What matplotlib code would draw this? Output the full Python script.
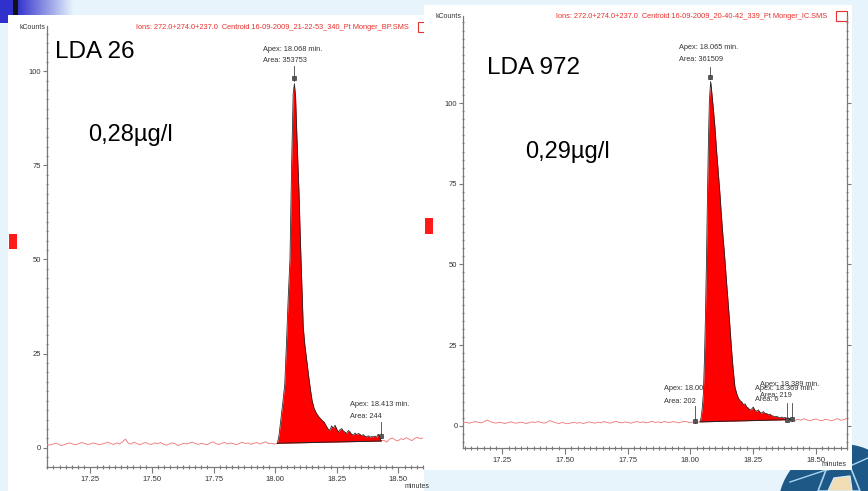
import numpy as np
import matplotlib.pyplot as plt
from matplotlib.patches import Rectangle, Circle, Polygon
from matplotlib.ticker import MultipleLocator, FixedLocator

plt.rcParams['font.family'] = ['Liberation Sans', 'DejaVu Sans']

W, H = 868, 491

# ---------------- data ----------------
# LDA 26 (left run)
left_xlim = (17.072, 18.600)
left_ylim = (-5.1, 112.0)
left_pre = [1.0, 0.7, 0.9, 1.2, 1.0, 0.6, 0.8, 1.1, 1.3, 1.0, 0.8, 1.1, 1.4, 1.2, 0.9, 1.0,
            1.3, 1.1, 0.8, 1.0, 1.2, 1.5, 1.1, 0.9, 1.3, 1.0, 1.6, 2.3, 1.2, 1.0, 1.5, 1.1,
            0.8, 1.2, 1.4, 1.0, 0.9, 1.3, 1.1, 1.4, 1.0, 0.7, 1.0, 1.3, 1.1, 0.6, 0.9, 1.2,
            1.0, 1.3, 1.5, 1.1, 0.9, 1.2, 1.0, 0.8, 1.3, 1.6, 1.1, 0.9, 1.2, 1.4, 1.0, 1.3,
            1.1, 0.8, 1.2, 1.5, 1.1, 1.3, 0.9, 1.2, 1.4, 1.0, 1.3, 1.6, 1.1, 1.2, 1.0, 1.2]
left_peak_t = [18.009, 18.016, 18.023, 18.031, 18.039, 18.046, 18.053, 18.060, 18.067, 18.073,
               18.078, 18.083, 18.087, 18.092, 18.097, 18.101, 18.105, 18.110, 18.114, 18.121,
               18.128, 18.135, 18.142, 18.150, 18.158, 18.168, 18.178, 18.189, 18.199, 18.209,
               18.216, 18.222, 18.229, 18.236, 18.243, 18.250, 18.256, 18.263, 18.270, 18.276,
               18.283, 18.290, 18.297, 18.304, 18.310, 18.317, 18.324, 18.331, 18.338, 18.344,
               18.351, 18.358, 18.364, 18.371, 18.378, 18.385, 18.391, 18.398, 18.405, 18.412,
               18.418, 18.425, 18.430]
left_peak_v = [1.2, 3.5, 7.5, 12, 17, 28, 40, 50, 76, 94,
               96.7, 93, 85, 76, 67.5, 58, 49.8, 40, 32, 27,
               23.3, 19.5, 16, 12.5, 10.5, 9.1, 8.2, 7.4, 6.8, 5.6,
               4.9, 4.7, 5.8, 5.2, 6.0, 5.0, 4.2, 4.8, 5.1, 4.5,
               4.2, 3.8, 4.6, 4.2, 3.6, 3.4, 3.9, 3.5, 3.8, 3.6,
               3.2, 3.5, 3.1, 2.9, 3.2, 2.8, 3.0, 2.9, 3.1, 2.8,
               3.6, 2.8, 1.8]
left_post = [1.8, 2.0, 1.5, 2.3, 2.6, 2.1, 1.8, 2.4, 2.2, 2.7, 2.3, 1.9, 2.5, 2.8, 2.4, 2.6]
left_marks = [(18.077, 97.5, 101.5), (18.428, 2.6, 6.9)]
left_labels = [(17.950, 105.8, "Apex: 18.068 min."), (17.950, 102.9, "Area: 353753"),
               (18.304, 11.6, "Apex: 18.413 min."), (18.304, 8.4, "Area: 244")]

# LDA 972 (right run)
right_xlim = (17.093, 18.625)
right_ylim = (-6.9, 127.0)
right_pre = [0.9, 1.1, 0.8, 1.0, 1.3, 1.1, 0.9, 1.2, 1.8, 1.3, 1.0, 0.8, 1.1, 0.9, 0.7, 1.0,
             1.2, 0.9, 0.8, 1.1, 1.0, 0.7, 0.9, 1.2, 1.0, 1.3, 1.0, 0.8, 1.1, 1.6, 1.2, 0.9,
             0.7, 1.0, 0.8, 0.6, 0.9, 1.1, 0.8, 1.0, 0.7, 0.9, 1.2, 1.0, 0.8, 1.1, 0.9, 1.3,
             1.0, 0.8, 1.1, 1.4, 1.0, 0.9, 1.2, 1.0, 0.8, 1.1, 1.3, 1.0, 1.2, 0.9, 1.1, 1.4,
             1.0, 1.2, 0.9, 1.3, 1.1, 1.0, 1.3, 1.1, 0.9, 1.2, 1.4, 1.1, 1.0, 1.3, 1.1, 1.2]
right_peak_t = [18.039, 18.044, 18.048, 18.052, 18.056, 18.060, 18.064, 18.068, 18.072, 18.076,
                18.081, 18.086, 18.092, 18.098, 18.104, 18.111, 18.118, 18.124, 18.131, 18.138,
                18.144, 18.151, 18.158, 18.165, 18.171, 18.178, 18.185, 18.192, 18.198, 18.205,
                18.212, 18.218, 18.225, 18.231, 18.238, 18.245, 18.251, 18.258, 18.265, 18.271,
                18.278, 18.285, 18.291, 18.298, 18.305, 18.311, 18.318, 18.325, 18.331, 18.338,
                18.345, 18.352, 18.358, 18.365, 18.372, 18.378, 18.385, 18.392, 18.398, 18.404]
right_peak_v = [1.2, 3, 6, 10, 20, 33, 50, 70, 88, 101,
                106.7, 103, 98, 92.7, 86, 79, 72, 65, 58, 51.4,
                45, 38, 30.7, 23, 17.3, 12, 10, 8.5, 7.8, 7.4,
                6.5, 6.8, 5.8, 5.5, 4.9, 5.2, 5.8, 4.7, 4.5, 4.9,
                4.2, 3.9, 4.4, 3.8, 3.8, 3.4, 3.6, 3.1, 3.0, 2.8,
                2.9, 2.6, 2.5, 2.7, 2.4, 2.6, 2.3, 2.4, 2.2, 1.9]
right_post = [1.9, 1.6, 2.0, 1.7, 2.2, 1.8, 1.5, 1.9, 2.1, 1.7, 1.6, 2.0, 1.8, 1.5, 1.9, 2.2,
              1.7, 1.9, 2.3]
right_marks = [(18.080, 107.5, 111.3), (18.018, 0.9, 6.2), (18.385, 1.2, 7.2), (18.405, 1.6, 7.2)]
# the two last peaks' labels overlap each other in the original display
right_labels = [(17.955, 117.1, "Apex: 18.065 min."), (17.955, 113.4, "Area: 361509"),
                (17.895, 11.4, "Apex: 18.008 min."), (17.895, 7.4, "Area: 202"),
                (18.258, 11.5, "Apex: 18.369 min."), (18.258, 8.1, "Area: 6"),
                (18.276, 12.7, "Apex: 18.389 min."), (18.276, 9.3, "Area: 219")]

x_major = [17.25, 17.50, 17.75, 18.00, 18.25, 18.50]
x_labels = ["17.25", "17.50", "17.75", "18.00", "18.25", "18.50"]
y_major = [0, 25, 50, 75, 100]

BG = '#e8f4fc'
AX_GREY = '#7a7a7a'
TXT = '#333333'
HEAD_RED = '#e8302c'
SMALL = 5.3


def px_axes(fig, x0, y0, x1, y1):
    return fig.add_axes([x0 / W, 1 - y1 / H, (x1 - x0) / W, (y1 - y0) / H])


def draw_chrom(ax, xlim, ylim, pre, pk_t, pk_v, post, marks, labels, right_spine):
    ax.set_xlim(*xlim)
    ax.set_ylim(*ylim)
    ax.patch.set_alpha(0)

    # baseline noise before and after the peak
    t_pre = np.linspace(xlim[0], pk_t[0], len(pre))
    t_post = np.linspace(pk_t[-1], xlim[1], len(post))
    ax.plot(t_pre, pre, color='#f27272', lw=0.6, zorder=3)
    ax.plot(t_post, post, color='#f27272', lw=0.6, zorder=3)

    # integrated peak
    pk_t = np.array(pk_t)
    pk_v = np.array(pk_v)
    base = np.interp(pk_t, [pk_t[0], pk_t[-1]], [pk_v[0], pk_v[-1]])
    ax.fill_between(pk_t, base, pk_v, color='#ff0000', lw=0, zorder=4)
    ax.plot(pk_t, pk_v, color='#222222', lw=0.55, zorder=5)
    ax.plot([pk_t[0], pk_t[-1]], [pk_v[0], pk_v[-1]], color='#222222', lw=0.7, zorder=5)

    # apex markers
    for t, lo, hi in marks:
        ax.plot([t, t], [lo, hi], color='#444444', lw=0.6, zorder=6)
        ax.plot([t], [lo + 0.6], marker='s', ms=2.3, color='#555555',
                mec='#222222', mew=0.4, zorder=6)
    for t, v, s in labels:
        ax.text(t, v, s, fontsize=SMALL, color=TXT, va='center', ha='left', zorder=2)

    ax.spines['top'].set_visible(False)
    ax.spines['right'].set_visible(right_spine)
    for side in ['left', 'bottom', 'right']:
        ax.spines[side].set_color(AX_GREY)
        ax.spines[side].set_linewidth(0.9)

    ax.xaxis.set_major_locator(FixedLocator(x_major))
    ax.set_xticklabels(x_labels)
    ax.xaxis.set_minor_locator(MultipleLocator(0.025))
    ax.yaxis.set_major_locator(FixedLocator(y_major))
    ax.yaxis.set_minor_locator(MultipleLocator(2.5))
    ax.tick_params(axis='both', which='both', colors=AX_GREY, labelcolor=TXT,
                   labelsize=5.5, width=0.8)
    ax.tick_params(axis='x', which='major', direction='out', length=4, pad=2.5)
    ax.tick_params(axis='x', which='minor', direction='inout', length=2.5)
    ax.tick_params(axis='y', which='major', direction='out', length=3, pad=1)
    ax.tick_params(axis='y', which='minor', direction='inout', length=2)
    ax.tick_params(axis='y', which='both', right=right_spine, labelright=False)


fig = plt.figure(figsize=(W / 100, H / 100), dpi=100)
fig.patch.set_facecolor(BG)

bg = fig.add_axes([0, 0, 1, 1])
bg.set_xlim(0, W)
bg.set_ylim(H, 0)
bg.axis('off')

# slide decoration top-left
grad = np.linspace(0, 1, 60)[None, :, None]
c0 = np.array([0.19, 0.19, 0.80])
c1 = np.array([0.91, 0.957, 0.988])
bg.imshow(c0 + (c1 - c0) * grad, extent=[16, 74, 15, 0], aspect='auto', zorder=1)
bg.add_patch(Rectangle((0, 0), 16, 15, color='#3030cc', lw=0, zorder=1))
bg.add_patch(Rectangle((0, 15), 8, 8, color='#3030cc', lw=0, zorder=1))
bg.add_patch(Rectangle((13, 0), 5, 15, color='#111111', lw=0, zorder=2))

# logo bottom-right
bg.add_patch(Circle((842, 508), 64, color='#1d5886', lw=0, zorder=1))
bg.add_patch(Polygon([[818, 491], [826, 470], [850, 466], [860, 491]], closed=True,
                     fc='none', ec='#a9d3ef', lw=1.2, zorder=1))
bg.add_patch(Polygon([[828, 491], [834, 478], [850, 476], [852, 491]], closed=True,
                     fc='#f1dcb4', ec='#d9e9f5', lw=1, zorder=1))
bg.plot([790, 826], [482, 470], color='#a9d3ef', lw=1, zorder=1)
bg.plot([850, 868], [466, 458], color='#a9d3ef', lw=1, zorder=1)

# white panels (right one overlaps the left one)
bg.add_patch(Rectangle((8, 15), 416, 480, color='white', lw=0, zorder=3))
bg.add_patch(Rectangle((424, 5), 428, 465, color='white', lw=0, zorder=4))

# red side markers
bg.add_patch(Rectangle((9, 234), 8, 15, color='#ff1a1a', lw=0, zorder=5))
bg.add_patch(Rectangle((425, 218), 8, 16, color='#ff1a1a', lw=0, zorder=5))

# panel headers
bg.text(45, 27, "kCounts", fontsize=5, color=TXT, ha='right', va='center', zorder=6)
bg.text(136, 27, "Ions: 272.0+274.0+237.0  Centroid 16-09-2009_21-22-53_340_Pt Monger_BP.SMS",
        fontsize=5.35, color=HEAD_RED, ha='left', va='center', zorder=6)
bg.add_patch(Rectangle((418, 22), 8, 10, fc='none', ec=HEAD_RED, lw=0.8, zorder=3.5))
bg.text(461, 16, "kCounts", fontsize=5, color=TXT, ha='right', va='center', zorder=6)
bg.text(556, 16, "Ions: 272.0+274.0+237.0  Centroid 16-09-2009_20-40-42_339_Pt Monger_IC.SMS",
        fontsize=5.35, color=HEAD_RED, ha='left', va='center', zorder=6)
bg.add_patch(Rectangle((836, 11), 11, 10, fc='none', ec=HEAD_RED, lw=0.8, zorder=6))

# slide text
bg.text(55, 52, "LDA 26", fontsize=17.5, color='black', ha='left', va='center', zorder=6)
bg.text(88, 135, "0,28µg/l", fontsize=17, color='black', ha='left', va='center', zorder=6)
bg.text(487, 68, "LDA 972", fontsize=17.5, color='black', ha='left', va='center', zorder=6)
bg.text(525, 152, "0,29µg/l", fontsize=17, color='black', ha='left', va='center', zorder=6)

bg.text(430, 487, "minutes", fontsize=5, color=TXT, ha='right', va='center', zorder=6)
bg.text(847, 465, "minutes", fontsize=5, color=TXT, ha='right', va='center', zorder=6)

# chromatograms
ax_l = px_axes(fig, 46.5, 26, 423, 467)
draw_chrom(ax_l, left_xlim, left_ylim, left_pre, left_peak_t, left_peak_v, left_post,
           left_marks, left_labels, right_spine=False)

ax_r = px_axes(fig, 463, 16, 847, 448)
draw_chrom(ax_r, right_xlim, right_ylim, right_pre, right_peak_t, right_peak_v, right_post,
           right_marks, right_labels, right_spine=True)

fig.savefig('out.png', dpi=100, facecolor=BG)
